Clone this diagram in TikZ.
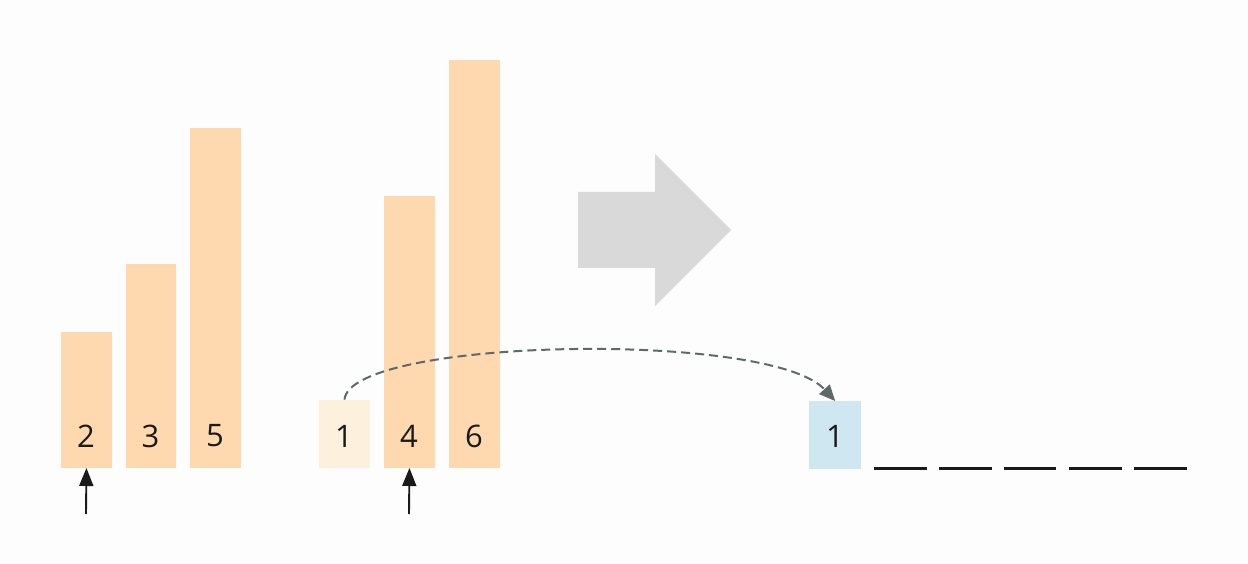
\documentclass[tikz,border=0pt]{standalone}
\usepackage{fontspec}
\setmainfont{Open Sans}
\usetikzlibrary{arrows.meta}
\definecolor{bg}{HTML}{FDFDFD}
\definecolor{peach}{HTML}{FED8AE}
\definecolor{cream}{HTML}{FDF1DE}
\definecolor{lblue}{HTML}{CFE7F0}
\definecolor{bigarrow}{HTML}{D9D9D9}
\definecolor{curvecol}{HTML}{5E6969}
\definecolor{ink}{HTML}{1A1A1A}
\tikzset{
  bar/.style={fill=peach, draw=none, inner sep=0pt, minimum width=50.5pt, anchor=south west},
  numtxt/.style={font=\fontsize{31}{32}\selectfont, text=ink, inner sep=0pt},
  ptr/.style={draw=ink, line width=1.9pt, -{Triangle[length=18pt,width=14pt]}},
  slot/.style={draw=ink, line width=3pt},
  moveline/.style={draw=curvecol, line width=2pt, dash pattern=on 9pt off 5pt, -{Triangle[length=16pt,width=14pt]}}
}
\begin{document}
\begin{tikzpicture}[x=1pt,y=-1pt]
\fill[bg] (0,0) rectangle (1248,564);
\useasboundingbox (0,0) rectangle (1248,564);
% left group
\node[bar, minimum height=136pt] (b2) at (61,468) {};
\node[bar, minimum height=204pt] (b3) at (125.5,468) {};
\node[bar, minimum height=340pt] (b5) at (190,468) {};
% right group
\node[bar, fill=cream, minimum height=68pt] (b1) at (319,468) {};
\node[bar, minimum height=272pt] (b4) at (384,468) {};
\node[bar, minimum height=408pt] (b6) at (449,468) {};
% numbers
\node[numtxt] (n2) at (86,436) {2};
\node[numtxt] (n3) at (150.5,436) {3};
\node[numtxt] (n5) at (215,436) {5};
\node[numtxt] (n1) at (344,436) {1};
\node[numtxt] (n4) at (409,436) {4};
\node[numtxt] (n6) at (474,436) {6};
% pointers
\coordinate (p1) at (86,514);
\coordinate (p2) at (409,514);
\draw[ptr] (p1) -- (b2.south);
\draw[ptr] (p2) -- (b4.south);
% big gray arrow
\fill[bigarrow] (578,192) -- (655,192) -- (655,154) -- (731,230) -- (655,306) -- (655,268) -- (578,268) -- cycle;
% result
\node[fill=lblue, inner sep=0pt, minimum width=52pt, minimum height=68pt, anchor=north west] (r1) at (809,401) {};
\node[numtxt] (rn1) at (835,436) {1};
\coordinate (s1a) at (874,468); \coordinate (s1b) at (927,468);
\coordinate (s2a) at (939,468); \coordinate (s2b) at (992,468);
\coordinate (s3a) at (1004,468); \coordinate (s3b) at (1056,468);
\coordinate (s4a) at (1069,468); \coordinate (s4b) at (1122,468);
\coordinate (s5a) at (1134,468); \coordinate (s5b) at (1187,468);
\draw[slot] (s1a) -- (s1b);
\draw[slot] (s2a) -- (s2b);
\draw[slot] (s3a) -- (s3b);
\draw[slot] (s4a) -- (s4b);
\draw[slot] (s5a) -- (s5b);
% move curve
\draw[moveline] (b1.north) .. controls (350,338) and (770,330) .. (r1.north);
\end{tikzpicture}
\end{document}
